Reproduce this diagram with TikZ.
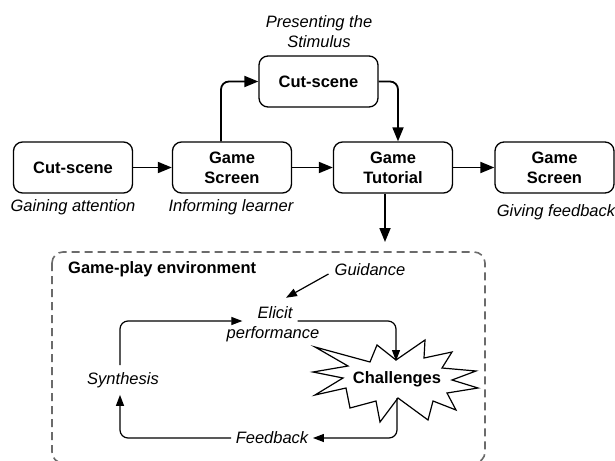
\documentclass[tikz,border=0pt]{standalone}
\usepackage{fontspec}
\setmainfont{Liberation Sans}
\usetikzlibrary{arrows.meta}

\begin{document}
\begin{tikzpicture}[x=1pt,y=-1pt,
  stepbox/.style={draw, rounded corners=9pt, line width=1.3pt,
    minimum width=119pt, minimum height=51pt, inner sep=0pt, align=center,
    font=\bfseries\fontsize{16.5}{20}\selectfont},
  lbl/.style={inner sep=0pt, font=\itshape\fontsize{16.5}{20}\selectfont},
  flow/.style={line width=1.8pt, rounded corners=8pt,
    -{Triangle[length=14pt,width=11pt]}},
  loopar/.style={line width=1.2pt, rounded corners=8pt,
    -{Triangle[length=11pt,width=8pt]}},
  envbox/.style={draw=black!58, line width=1.6pt, rounded corners=11pt,
    dash pattern=on 8pt off 5pt}]
\useasboundingbox (0,0) rectangle (615,460);

% main sequence of screens
\node[stepbox] (cs1) at (73,167.5) {Cut-scene};
\node[stepbox] (gs1) at (232,167.5) {Game\\Screen};
\node[stepbox] (tut) at (393,167.5) {Game\\Tutorial};
\node[stepbox] (gs2) at (554.5,167.5) {Game\\Screen};
\node[stepbox] (cs2) at (318.5,81.5) {Cut-scene};

% event labels
\node[lbl] (l1) at (73,207) {Gaining attention};
\node[lbl] (l2) at (231,207) {Informing learner};
\node[lbl] (l3) at (556,212) {Giving feedback};
\node[lbl, align=center] (l4) at (319,32) {Presenting the\\Stimulus};

% connectors between screens
\draw[flow] (cs1) -- (gs1);
\draw[flow] (gs1) -- (tut);
\draw[flow] (tut) -- (gs2);
\draw[flow] ([xshift=-11pt]gs1.north) |- (cs2.west);
\draw[flow] (cs2.east) -| ([xshift=5pt]tut.north);
\coordinate (envin) at (385,242);
\draw[flow] ([xshift=-8pt]tut.south) -- (envin);

% game-play environment
\draw[envbox] (52,252) rectangle (485,463);
\node[anchor=west, inner sep=0pt, font=\bfseries\fontsize{16.5}{20}\selectfont]
  (env) at (68,269) {Game-play environment};

\node[lbl] (guid) at (370,270) {Guidance};
\node[lbl] (elicit) at (275,313) {Elicit};
\node[lbl] (perf) at (273,334) {performance};
\node[lbl] (syn) at (123,380) {Synthesis};
\node[lbl, inner xsep=4.5pt] (fb) at (272,438) {Feedback};

% challenges burst
\draw[line width=1.2pt, fill=white, line join=miter]
  (315,347) -- (370,362) -- (377,345) -- (396,360) -- (425,340) -- (424,358)
  -- (452,352) -- (442,368) -- (476,371) -- (452,380) -- (478,388) -- (447,393)
  -- (456,410) -- (433,401) -- (428,420) -- (398,398) -- (380,422) -- (376,401)
  -- (350,408) -- (346,388) -- (315,395) -- (343,378) -- (313,372) -- (348,366)
  -- cycle;
\node[inner sep=0pt, font=\bfseries\fontsize{16.5}{20}\selectfont]
  (ch) at (397,379) {Challenges};
\coordinate (chtop) at (396,361);
\coordinate (chbot) at (397,398);

% learning loop
\coordinate (elin) at ([shift={(-15pt,-8pt)}]elicit.west);
\coordinate (elout) at ([shift={(5pt,-8pt)}]elicit.east);
\draw[loopar] ([xshift=-6pt,yshift=-4pt]guid.west) -- ([shift={(11pt,9pt)}]elicit.north);
\draw[loopar] ([shift={(-3pt,7pt)}]syn.north) |- (elin);
\draw[loopar] (elout) -| (chtop);
\draw[loopar] (chbot) |- (fb.east);
\draw[loopar] (fb.west) -| ([shift={(-3pt,-7pt)}]syn.south);
\end{tikzpicture}
\end{document}
